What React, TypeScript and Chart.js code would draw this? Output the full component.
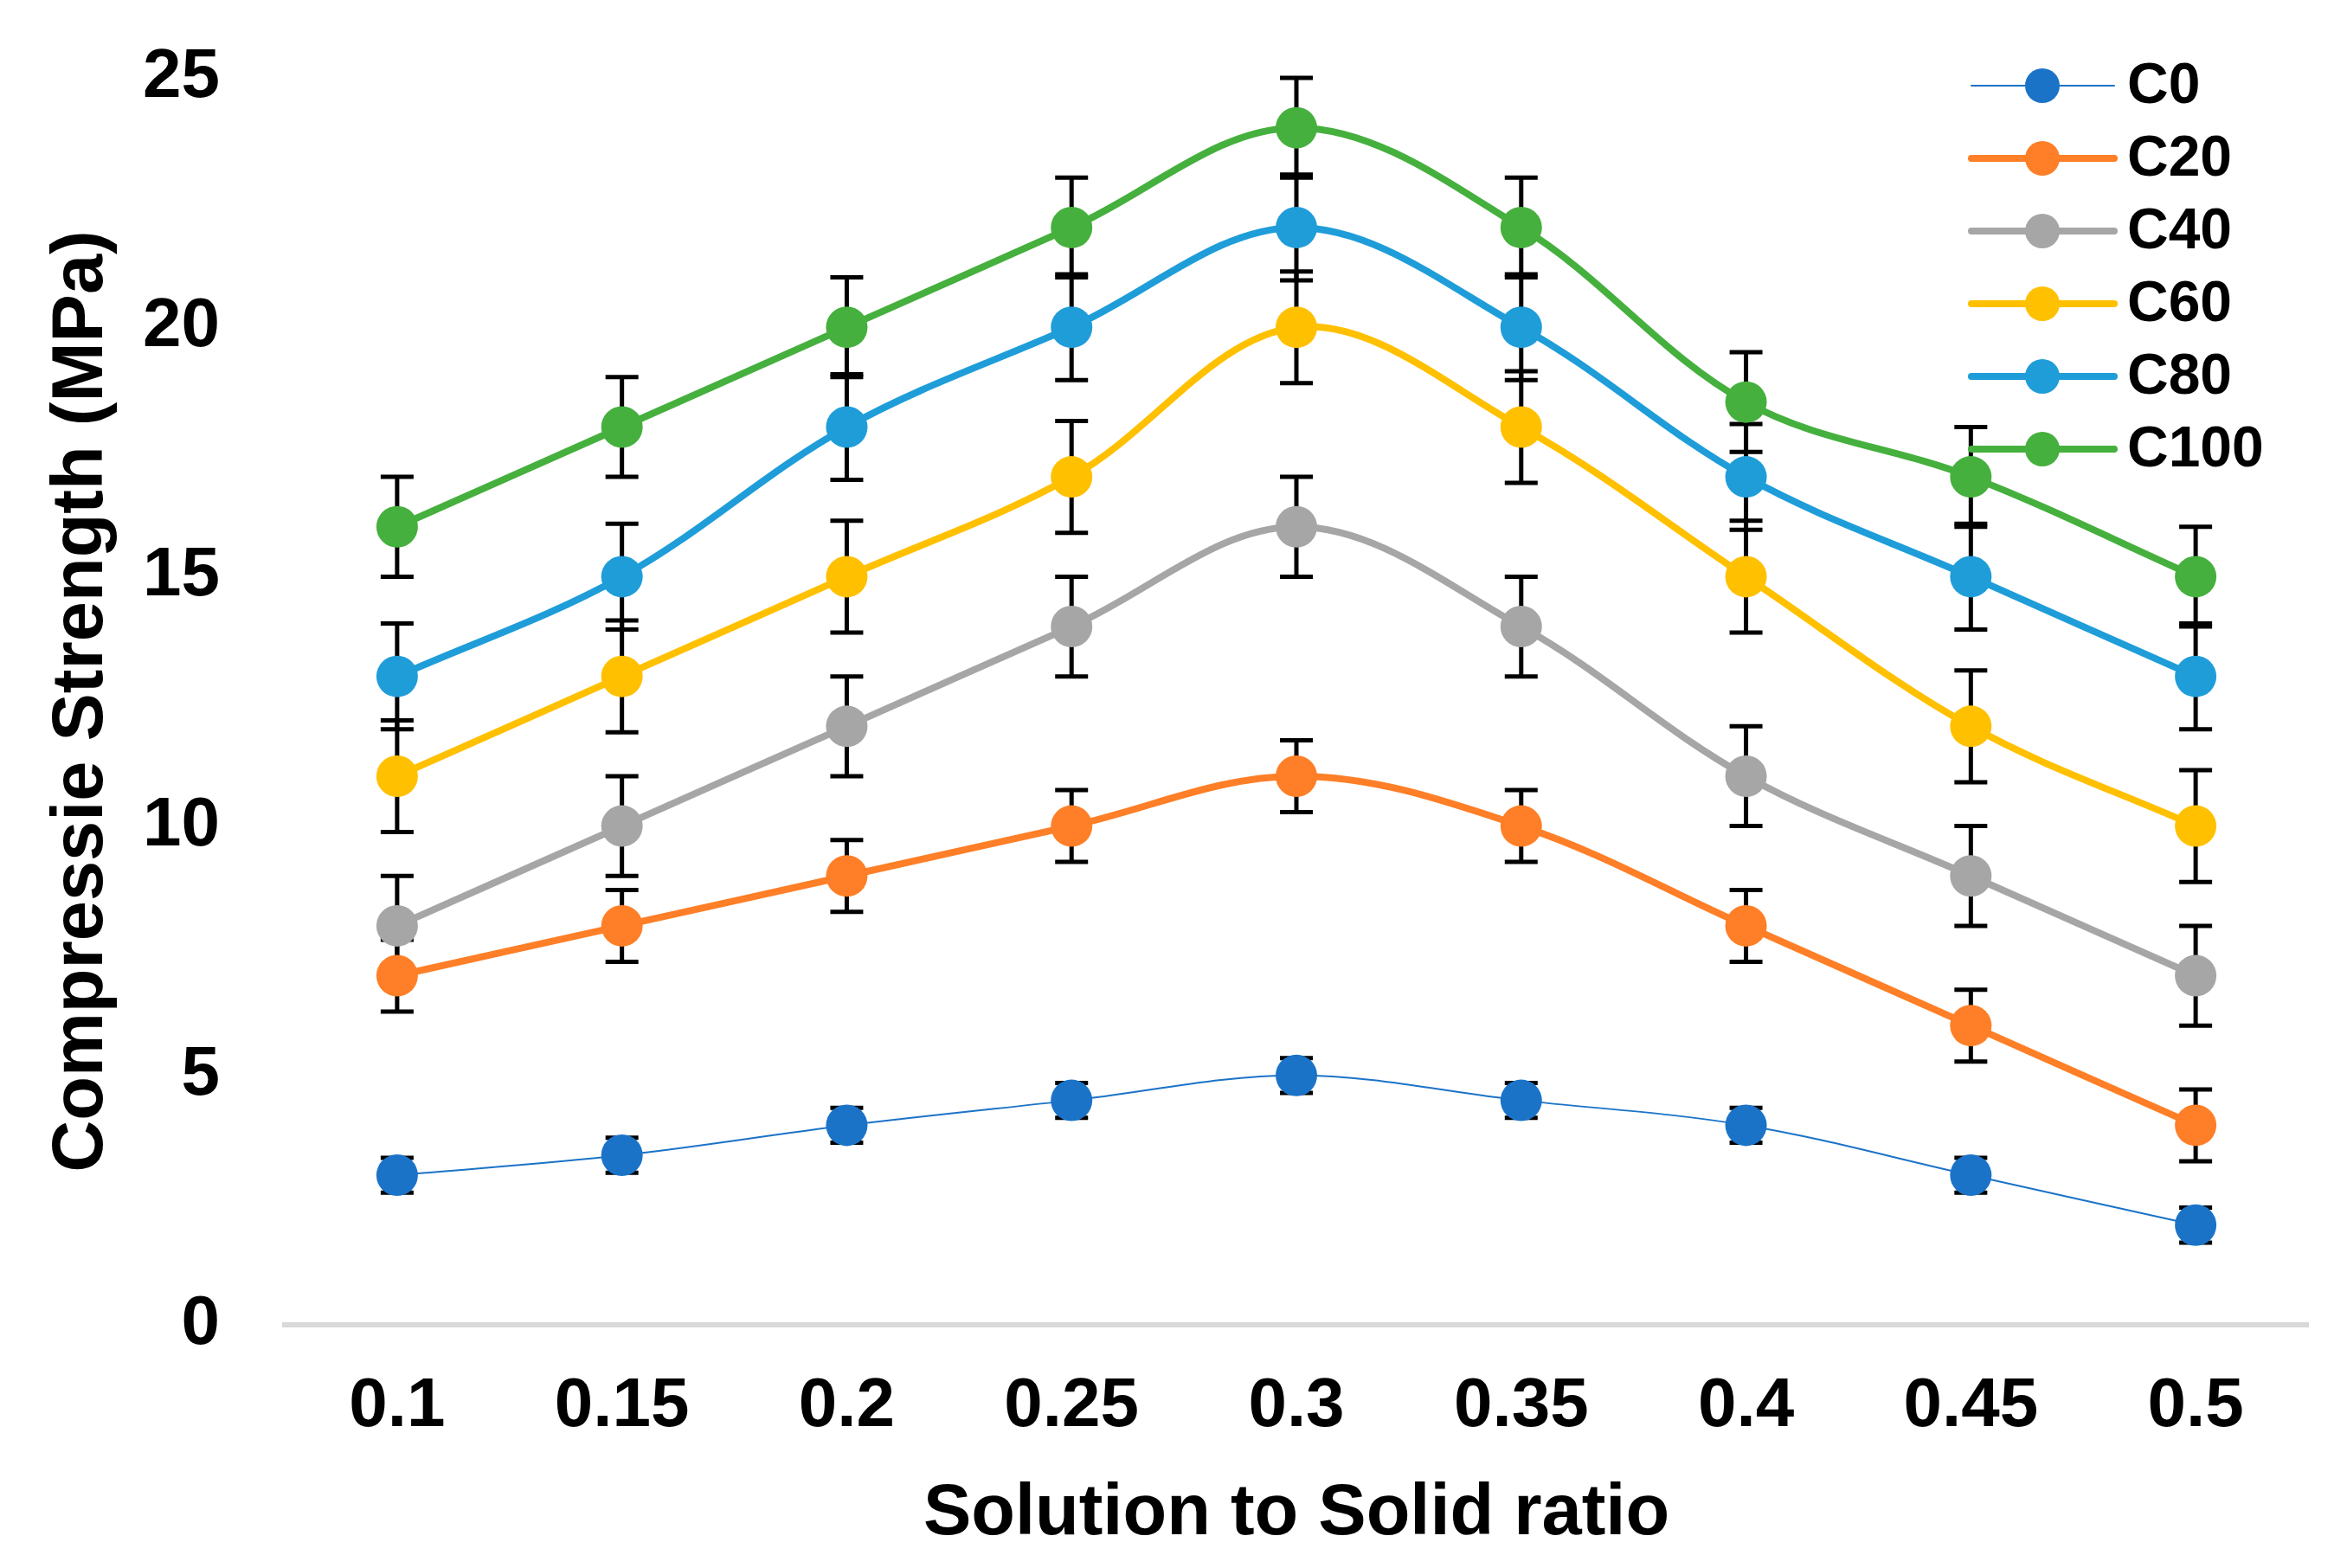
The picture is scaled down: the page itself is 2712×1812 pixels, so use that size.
import React, { useEffect, useRef } from 'react';
import { Chart, registerables } from 'chart.js';

Chart.register(...registerables);

const categories = ['0.1', '0.15', '0.2', '0.25', '0.3', '0.35', '0.4', '0.45', '0.5'];
const seriesNames = ['C0', 'C20', 'C40', 'C60', 'C80', 'C100'];

const c0 = [3, 3.4, 4, 4.5, 5, 4.5, 4, 3, 2];
const c20 = [7, 8, 9, 10, 11, 10, 8, 6, 4];
const c40 = [8, 10, 12, 14, 16, 14, 11, 9, 7];
const c60 = [11, 13, 15, 17, 20, 18, 15, 12, 10];
const c80 = [13, 15, 18, 20, 22, 20, 17, 15, 13];
const c100 = [16, 18, 20, 22, 24, 22, 18.5, 17, 15];

const c0Err = [0.35, 0.35, 0.35, 0.35, 0.35, 0.35, 0.35, 0.35, 0.35];
const c20Err = [0.72, 0.72, 0.72, 0.72, 0.72, 0.72, 0.72, 0.72, 0.72];
const c40Err = [1, 1, 1, 1, 1, 1, 1, 1, 1];
const c60Err = [1.12, 1.12, 1.12, 1.12, 1.12, 1.12, 1.12, 1.12, 1.12];
const c80Err = [1.06, 1.06, 1.06, 1.06, 1.06, 1.06, 1.06, 1.06, 1.06];
const c100Err = [1, 1, 1, 1, 1, 1, 1, 1, 1];

const seriesValues = [c0, c20, c40, c60, c80, c100];
const seriesErrors = [c0Err, c20Err, c40Err, c60Err, c80Err, c100Err];
const seriesColors = ['#1B73C8', '#FE7F27', '#A6A6A6', '#FFC000', '#1F9DD9', '#45B03D'];
const seriesLineWidths = [2, 8, 8, 8, 8, 8];

const yMin = 0;
const yMax = 25;
const yStep = 5;

const xTitle = 'Solution to Solid ratio';
const yTitle = 'Compressie Strength (MPa)';

const FONT = '"Liberation Sans", Arial, sans-serif';

const errorBarPlugin = {
  id: 'errorBars',
  beforeDatasetsDraw(chart: any) {
    const ctx = chart.ctx;
    const xs = chart.scales.x;
    const ys = chart.scales.y;
    ctx.save();
    ctx.strokeStyle = '#000000';
    ctx.lineWidth = 5;
    ctx.lineCap = 'butt';
    seriesValues.forEach((vals, i) => {
      const errs = seriesErrors[i];
      vals.forEach((v, j) => {
        const px = xs.getPixelForValue(j);
        const top = ys.getPixelForValue(v + errs[j]);
        const bot = ys.getPixelForValue(v - errs[j]);
        const cap = 19;
        ctx.beginPath();
        ctx.moveTo(px, top);
        ctx.lineTo(px, bot);
        ctx.moveTo(px - cap, top);
        ctx.lineTo(px + cap, top);
        ctx.moveTo(px - cap, bot);
        ctx.lineTo(px + cap, bot);
        ctx.stroke();
      });
    });
    ctx.restore();
  },
};

const legendPlugin = {
  id: 'insideLegend',
  afterDraw(chart: any) {
    const ctx = chart.ctx;
    const lineX0 = 2278;
    const lineX1 = 2443;
    const markX = 2360;
    const textX = 2458;
    const rowY0 = 99;
    const rowGap = 84;
    ctx.save();
    seriesNames.forEach((name, i) => {
      const yy = rowY0 + i * rowGap;
      ctx.strokeStyle = seriesColors[i];
      ctx.lineWidth = seriesLineWidths[i];
      ctx.lineCap = 'round';
      ctx.beginPath();
      ctx.moveTo(lineX0, yy);
      ctx.lineTo(lineX1, yy);
      ctx.stroke();
      ctx.fillStyle = seriesColors[i];
      ctx.beginPath();
      ctx.arc(markX, yy, 20, 0, Math.PI * 2);
      ctx.fill();
      ctx.fillStyle = '#000000';
      ctx.font = `bold 66px ${FONT}`;
      ctx.textAlign = 'left';
      ctx.textBaseline = 'middle';
      ctx.fillText(name, textX, yy + 2);
    });
    ctx.restore();
  },
};

export default function App() {
  const canvasRef = useRef<HTMLCanvasElement | null>(null);

  useEffect(() => {
    const canvas = canvasRef.current;
    if (!canvas) return;
    const datasets = seriesNames.map((name, i) => ({
      label: name,
      data: seriesValues[i],
      borderColor: seriesColors[i],
      backgroundColor: seriesColors[i],
      borderWidth: seriesLineWidths[i],
      pointRadius: 24,
      pointHoverRadius: 24,
      pointBorderWidth: 0,
      pointBackgroundColor: seriesColors[i],
      pointBorderColor: seriesColors[i],
      tension: 0.35,
      fill: false,
      clip: false as any,
      order: seriesNames.length - 1 - i,
    }));

    const chart = new Chart(canvas, {
      type: 'line',
      data: { labels: categories, datasets },
      plugins: [errorBarPlugin, legendPlugin],
      options: {
        animation: false,
        responsive: false,
        maintainAspectRatio: false,
        devicePixelRatio: 1,
        layout: { padding: { top: 90, right: 45, left: 0, bottom: 0 } },
        plugins: {
          legend: { display: false },
          tooltip: { enabled: false },
        },
        scales: {
          x: {
            type: 'category',
            offset: true,
            grid: { display: false, drawTicks: false },
            border: { display: true, color: '#D9D9D9', width: 6 },
            ticks: {
              color: '#000000',
              font: { family: FONT, size: 80, weight: 'bold', lineHeight: 1.2 },
              padding: 47,
              maxRotation: 0,
              autoSkip: false,
            },
            title: {
              display: true,
              text: xTitle,
              color: '#000000',
              font: { family: FONT, size: 83, weight: 'bold', lineHeight: 1.2 },
              padding: { top: 0, bottom: 12 },
            },
            afterFit(scale: any) {
              scale.height = 281;
              scale.paddingLeft = 0;
              scale.paddingRight = 0;
            },
          },
          y: {
            min: yMin,
            max: yMax,
            grid: { display: false, drawTicks: false },
            border: { display: false },
            ticks: {
              stepSize: yStep,
              color: '#000000',
              font: { family: FONT, size: 80, weight: 'bold', lineHeight: 1.2 },
              padding: 75,
            },
            title: {
              display: true,
              text: yTitle,
              color: '#000000',
              font: { family: FONT, size: 83, weight: 'bold', lineHeight: 1.2 },
              padding: { top: 45, bottom: 0 },
            },
            afterFit(scale: any) {
              scale.width = 329;
              scale.paddingTop = 0;
              scale.paddingBottom = 0;
            },
          },
        },
      } as any,
    });
    return () => chart.destroy();
  }, []);

  return (
    <div style={{ position: 'absolute', left: 0, top: 0, width: 2712, height: 1812, background: '#ffffff' }}>
      <canvas ref={canvasRef} width={2712} height={1812} style={{ width: 2712, height: 1812, display: 'block' }} />
    </div>
  );
}
